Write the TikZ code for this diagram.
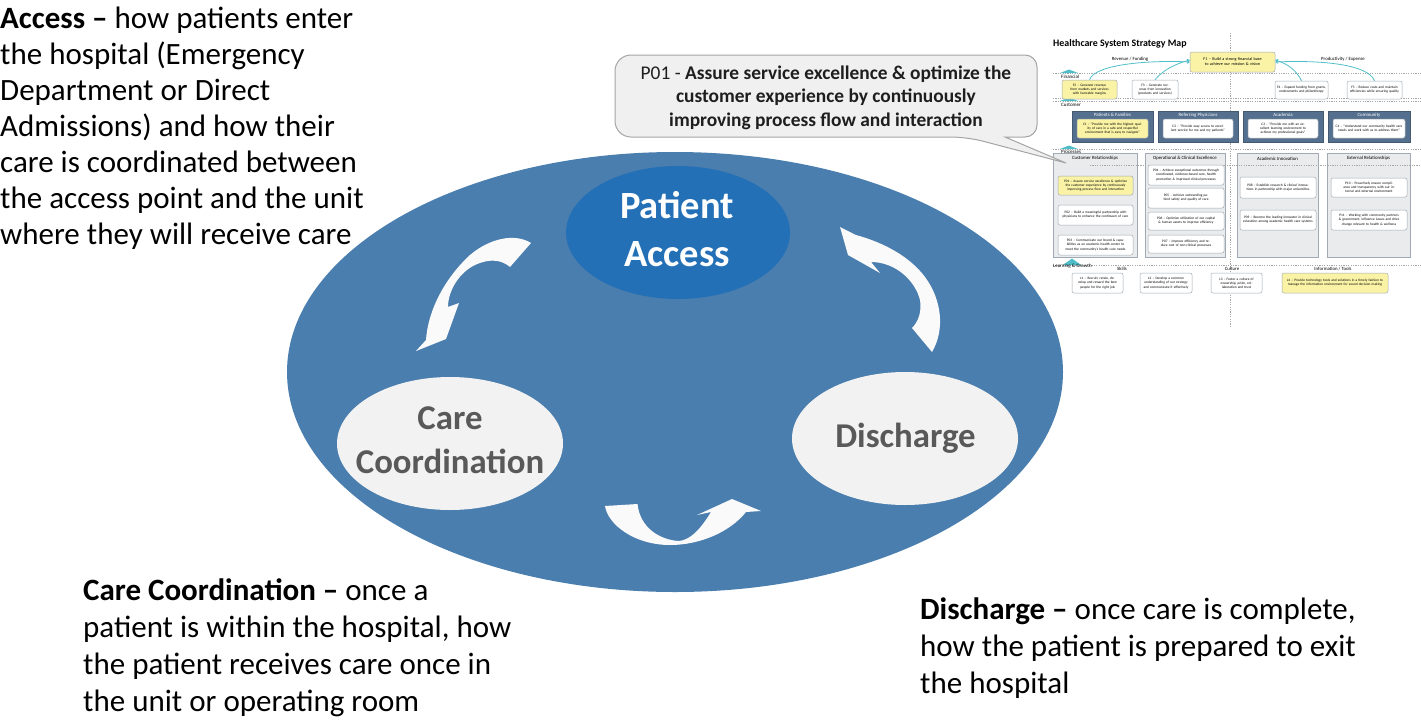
\documentclass[tikz,border=0pt]{standalone}
\usepackage{fontspec}
\setmainfont{Carlito}
\usetikzlibrary{shapes.geometric,arrows.meta}
\definecolor{bigblue}{RGB}{74,126,174}
\definecolor{accblue}{RGB}{36,112,182}
\definecolor{lightell}{RGB}{242,242,242}
\definecolor{elltext}{RGB}{89,89,89}
\definecolor{arrowfill}{RGB}{250,250,250}
\definecolor{callfill}{RGB}{240,240,240}
\definecolor{callline}{RGB}{165,165,165}
\definecolor{calltext}{RGB}{30,30,30}
\definecolor{mapyellow}{RGB}{250,243,165}
\definecolor{mapline}{RGB}{160,170,180}
\definecolor{mapteal}{RGB}{80,190,200}
\definecolor{mapcust}{RGB}{84,112,142}
\definecolor{mapcol}{RGB}{233,235,237}
\tikzset{
  bodytext/.style={anchor=north west, inner sep=0pt, align=left, text=black},
  smallell/.style={ellipse, fill=lightell, inner sep=0pt, minimum width=226pt, minimum height=133pt},
  elllabel/.style={inner sep=0pt, align=center, text=elltext, font=\bfseries\fontsize{34.8}{44}\selectfont},
  whitearrow/.style={fill=arrowfill},
  mapdash/.style={draw=gray!70, dash pattern=on 1.2pt off 1.2pt, line width=0.6pt},
  mapbox/.style={draw=mapline, rounded corners=2pt, fill=white, line width=0.5pt, align=center, inner sep=0.5pt, font=\fontsize{3.5}{4.1}\selectfont},
  mapyel/.style={mapbox, fill=mapyellow},
  mapcat/.style={anchor=west, inner sep=0pt, font=\fontsize{5}{6}\selectfont},
  maphead/.style={inner sep=0pt, font=\fontsize{4.8}{5.7}\selectfont},
  custbox/.style={fill=mapcust, draw=mapcust!80!black, line width=0.4pt},
  colbox/.style={fill=mapcol, draw=mapline, line width=0.5pt},
  tealarrow/.style={draw=mapteal, line width=0.8pt, -{Straight Barb[length=2pt,width=3pt]}},
  tealhill/.style={fill=mapteal}
}
\begin{document}
\begin{tikzpicture}[x=1pt,y=-1pt]
\useasboundingbox (0,0) rectangle (1421,721);

% ---------------- cycle diagram ----------------
\node[ellipse, fill=bigblue, inner sep=0pt, minimum width=776pt, minimum height=440pt] (bigell) at (675,372) {};
\node[ellipse, fill=accblue, inner sep=0pt, minimum width=224pt, minimum height=133pt] (pa) at (678,232.5) {};
\node[smallell] (cc) at (450,443.5) {};
\node[smallell] (dc) at (905,438.5) {};

\node[inner sep=0pt, align=center, text=white, font=\bfseries\fontsize{38.5}{48}\selectfont] (patxt) at (677,229) {Patient\\Access};
\node[elllabel] (cctxt) at (450,440) {Care\\Coordination};
\node[elllabel, anchor=base] (dctxt) at (905.5,447) {Discharge};

% white curved arrows
\fill[whitearrow] (531,243) .. controls (515,233) and (490,238) .. (470,255)
   .. controls (445,278) and (428,310) .. (426,340) -- (416,351) -- (446,339) -- (459,303) -- (448,307)
   .. controls (448,290) and (460,272) .. (475,265) .. controls (490,258) and (502,260) .. (510,267) -- cycle;
\fill[whitearrow] (932,352) .. controls (945,330) and (942,300) .. (925,277)
   .. controls (910,257) and (885,243) .. (856,235) -- (840,227) -- (848,255) -- (880,273) -- (871,262)
   .. controls (895,262) and (915,280) .. (920,300) .. controls (922,312) and (918,322) .. (912,328) -- cycle;
\fill[whitearrow] (605,506) .. controls (608,525) and (635,545) .. (670,545)
   .. controls (700,545) and (730,532) .. (746,512) -- (761,511) -- (732,499) -- (697,515) -- (711,512)
   .. controls (700,530) and (690,540) .. (679,541) .. controls (660,540) and (640,528) .. (637.5,504) -- cycle;

% ---------------- body texts ----------------
\node[bodytext, font=\fontsize{31}{36}\selectfont] (acctxt) at (0,3.3)
 {\strut\textbf{Access –} how patients enter\\
  the hospital (Emergency\\
  Department or Direct\\
  Admissions) and how their\\
  care is coordinated between\\
  the access point and the unit\\
  where they will receive care};
\node[bodytext, font=\fontsize{31}{37}\selectfont] (cctext) at (83,574.6)
 {\strut\textbf{Care Coordination –} once a\\
  patient is within the hospital, how\\
  the patient receives care once in\\
  the unit or operating room};
\node[bodytext, font=\fontsize{31}{37}\selectfont] (dctext) at (920,593.6)
 {\strut\textbf{Discharge –} once care is complete,\\
  how the patient is prepared to exit\\
  the hospital};

% ---------------- strategy map ----------------
\node[anchor=west, inner sep=0pt, font=\bfseries\fontsize{9.9}{11}\selectfont] (maptitle) at (1053,44) {Healthcare System Strategy Map};
\draw[mapdash] (1230,33) -- (1230,327);
\draw[mapdash] (1053,73) -- (1421,73);
\draw[mapdash] (1053,98) -- (1421,98);
\draw[mapdash] (1053,101) -- (1421,101);
\draw[mapdash] (1053,149) -- (1421,149);
\draw[mapdash] (1053,265) -- (1421,265);
\fill[tealhill] (1060,73) -- (1069,69.5) -- (1078,73) -- cycle;
\fill[tealhill] (1060,101) -- (1069,97.5) -- (1078,101) -- cycle;
\fill[tealhill] (1060,149) -- (1069,145.5) -- (1078,149) -- cycle;
\fill[tealhill] (1063,265) -- (1072,258.5) -- (1081,265) -- cycle;
\node[mapcat] (lfin) at (1061,76.5) {Financial};
\node[mapcat] (lcus) at (1061,104.5) {Customer};
\node[mapcat] (lpro) at (1061,152) {Processes};
\node[mapcat] (llg) at (1053,266.5) {Learning \& Growth};
\node[maphead] (lrev) at (1130,59) {Revenue / Funding};
\node[maphead] (lprod) at (1343,59) {Productivity / Expense};

% financial
\node[mapyel, minimum width=85pt, minimum height=20pt, text width=80pt, font=\fontsize{4.2}{5}\selectfont] (f1) at (1232.5,62) {F1 – Build a strong financial base\\to achieve our mission \& vision};
\node[mapyel, minimum width=55pt, minimum height=19pt, text width=51pt] (f2) at (1089.5,89.5) {F2 – Generate revenue from markets and services with favorable margins};
\node[mapbox, minimum width=46pt, minimum height=19pt, text width=42pt] (f3) at (1155,89.5) {F3 – Generate revenue from innovation (products and services)};
\node[mapbox, minimum width=53pt, minimum height=18pt, text width=49pt] (f4) at (1301.5,90) {F4 – Expand funding from grants, endowments and philanthropy};
\node[mapbox, minimum width=55pt, minimum height=18pt, text width=51pt] (f5) at (1374.5,90) {F5 – Reduce costs and maintain efficiencies while ensuring quality};
\draw[tealarrow] (f2.north) .. controls (1095,64) and (1150,60) .. (f1.west);
\draw[tealarrow] (f3.north) .. controls (1163,70) and (1175,64) .. ([yshift=2pt]f1.west);
\draw[tealarrow] (f4.north) .. controls (1296,70) and (1288,64) .. ([yshift=2pt]f1.east);
\draw[tealarrow] (f5.north) .. controls (1368,64) and (1320,60) .. (f1.east);

% customer
\foreach \nm/\cx/\w/\hd in {c1/1112.5/81/Patients \& Families, c2/1198/80/Referring Physicians, c3/1283/80/Academia, c4/1369/82/Community}{
  \node[custbox, minimum width=\w pt, minimum height=31pt, inner sep=0pt] (\nm bg) at (\cx,126.5) {};
  \node[maphead, text=white] (\nm hd) at (\cx,115) {\hd};
}
\node[mapyel, minimum width=71pt, minimum height=19pt, text width=67pt] (c1) at (1112.5,128.5) {C1 – “Provide me with the highest quality of care in a safe and respectful environment that is easy to navigate”};
\node[mapbox, minimum width=70pt, minimum height=19pt, text width=66pt] (c2) at (1198,128.5) {C2 – “Provide easy access to excellent service for me and my patients”};
\node[mapbox, minimum width=70pt, minimum height=19pt, text width=66pt] (c3) at (1283,128.5) {C3 – “Provide me with an excellent learning environment to achieve my professional goals”};
\node[mapbox, minimum width=72pt, minimum height=19pt, text width=68pt] (c4) at (1369,128.5) {C4 – “Understand our community health care needs and work with us to address them”};

% processes
\foreach \nm/\cx/\w/\hd in {k1/1095/84/Customer Relationships, k2/1185/80/Operational \& Clinical Excellence, k3/1277.5/81/Academic Innovation, k4/1368.5/83/External Relationships}{
  \node[colbox, minimum width=\w pt, minimum height=104pt, inner sep=0pt] (\nm) at (\cx,205) {};
  \node[maphead] (\nm hd) at (\cx,158.5) {\hd};
}
\draw[mapdash, line width=0.4pt] (1090,165) -- (1421,165);
\node[mapyel, minimum width=75pt, minimum height=19pt, text width=71pt] (p01) at (1095.5,185.5) {P01 – Assure service excellence \& optimize the customer experience by continuously improving process flow and interaction};
\node[mapbox, minimum width=75pt, minimum height=20pt, text width=71pt] (p02) at (1095.5,215) {P02 – Build a meaningful partnership with physicians to enhance the continuum of care};
\node[mapbox, minimum width=75pt, minimum height=20pt, text width=71pt] (p03) at (1095.5,245) {P03 – Communicate our brand \& capabilities as an academic health center to meet the community’s health care needs};
\node[mapbox, minimum width=76pt, minimum height=20pt, text width=72pt] (p04) at (1186,175) {P04 – Achieve exceptional outcomes through coordinated, evidence-based care, health promotion \& improved clinical processes};
\node[mapbox, minimum width=76pt, minimum height=20pt, text width=72pt] (p05) at (1186,198) {P05 – Achieve outstanding patient safety and quality of care};
\node[mapbox, minimum width=76pt, minimum height=18pt, text width=72pt] (p06) at (1186,221) {P06 – Optimize utilization of our capital \& human assets to improve efficiency};
\node[mapbox, minimum width=76pt, minimum height=18pt, text width=72pt] (p07) at (1186,244) {P07 – Improve efficiency and reduce cost of non-clinical processes};
\node[mapbox, minimum width=76pt, minimum height=21pt, text width=72pt] (p08) at (1278,187.5) {P08 – Establish research \& clinical innovations in partnership with major universities};
\node[mapbox, minimum width=76pt, minimum height=20pt, text width=72pt] (p09) at (1278,220) {P09 – Become the leading innovator in clinical education among academic health care systems};
\node[mapbox, minimum width=76pt, minimum height=19pt, text width=72pt] (p10) at (1369,187.5) {P10 – Proactively ensure compliance and transparency with our internal and external environment};
\node[mapbox, minimum width=76pt, minimum height=20pt, text width=72pt] (p11) at (1369,220) {P11 – Working with community partners \& government, influence issues and drive change relevant to health \& wellness};

% learning & growth
\node[maphead] (lsk) at (1122,268.5) {Skills};
\node[maphead] (lcu) at (1232,268.5) {Culture};
\node[maphead] (lit) at (1333,268.5) {Information / Tools};
\node[mapbox, minimum width=51pt, minimum height=20pt, text width=47pt] (l1) at (1097.5,283) {L1 – Recruit, retain, develop and reward the best people for the right job};
\node[mapbox, minimum width=52pt, minimum height=20pt, text width=48pt] (l2) at (1166,283) {L2 – Develop a common understanding of our strategy and communicate it effectively};
\node[mapbox, minimum width=51pt, minimum height=20pt, text width=47pt] (l3) at (1236.5,283) {L3 – Foster a culture of ownership, pride, collaboration and trust};
\node[mapyel, minimum width=106pt, minimum height=20pt, text width=100pt] (l4) at (1335,283) {L4 – Provide technology tools and solutions in a timely fashion to manage the information environment for sound decision making};

% ---------------- callout ----------------
\draw[draw=callline, fill=callfill, line width=1pt]
  (826,55) [rounded corners=16pt] -- (615,55) -- (615,137) -- (967,137) [sharp corners]
  -- (1066,163) -- (1005,137) [rounded corners=12pt] -- (1037,137) -- (1037,55) -- cycle;
\node[anchor=north, inner sep=0pt, align=center, text=calltext, font=\fontsize{19.4}{23.5}\selectfont] (calltxt) at (826,62.5)
 {\strut P01 - \textbf{Assure service excellence \& optimize the}\\
  \textbf{customer experience by continuously}\\
  \textbf{improving process flow and interaction}};
\end{tikzpicture}
\end{document}
